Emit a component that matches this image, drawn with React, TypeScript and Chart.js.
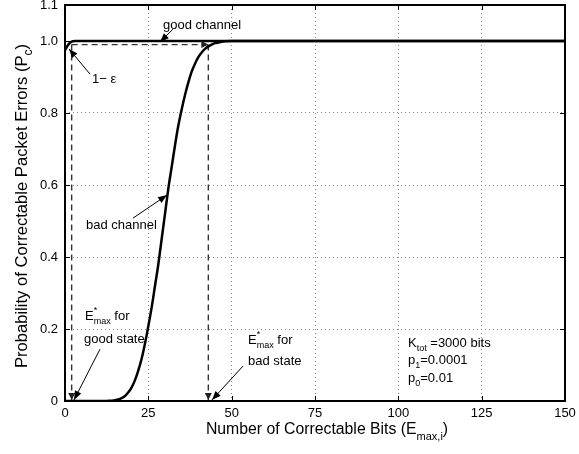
import React, { useEffect, useRef } from "react";
import { Chart, registerables } from "chart.js";

Chart.register(...registerables);

// ---- data ----
const goodX = [0, 1, 2, 3, 150];
const goodY = [0.975, 0.99, 0.998, 1.0, 1.0];

const badX = [0, 12, 13, 14, 15, 16, 17, 18, 19, 20, 21, 22, 23, 24, 25, 26, 27, 28, 29, 30, 31, 32, 33, 34, 35, 36, 37, 38, 39, 40, 41, 42, 43, 44, 45, 46, 47, 48, 50, 150];
const badY = [0, 0, 0.0005, 0.001, 0.002, 0.004, 0.008, 0.014, 0.024, 0.038, 0.058, 0.085, 0.118, 0.16, 0.208, 0.26, 0.32, 0.38, 0.45, 0.52, 0.59, 0.65, 0.71, 0.765, 0.81, 0.85, 0.885, 0.915, 0.937, 0.955, 0.968, 0.978, 0.985, 0.99, 0.994, 0.996, 0.998, 0.999, 1.0, 1.0];

const xTicks = [0, 25, 50, 75, 100, 125, 150];
const yTicks = [0, 0.2, 0.4, 0.6, 0.8, 1.0, 1.1];
const yTickLabels = ["0", "0.2", "0.4", "0.6", "0.8", "1.0", "1.1"];

const guideLevel = 0.99; // 1 - epsilon
const goodEmax = 2;
const badEmax = 43;

// annotation texts (segments: plain text, or sup/sub pairs) anchored in data units
type Seg = { t?: string; sup?: string; sub?: string };
const notes: { x: number; y: number; segs: Seg[] }[] = [
  { x: 29.4, y: 1.044, segs: [{ t: "good channel" }] },
  { x: 8.1, y: 0.892, segs: [{ t: "1\u2212 \u03b5" }] },
  { x: 6.3, y: 0.489, segs: [{ t: "bad channel" }] },
  { x: 6.0, y: 0.236, segs: [{ t: "E" }, { sup: "*", sub: "max" }, { t: " for" }] },
  { x: 5.7, y: 0.172, segs: [{ t: "good state" }] },
  { x: 54.9, y: 0.169, segs: [{ t: "E" }, { sup: "*", sub: "max" }, { t: " for" }] },
  { x: 54.9, y: 0.111, segs: [{ t: "bad state" }] },
  { x: 102.9, y: 0.161, segs: [{ t: "K" }, { sub: "tot" }, { t: " =3000 bits" }] },
  { x: 102.9, y: 0.114, segs: [{ t: "p" }, { sub: "1" }, { t: "=0.0001" }] },
  { x: 102.9, y: 0.064, segs: [{ t: "p" }, { sub: "0" }, { t: "=0.01" }] },
];

const arrows: { from: [number, number]; to: [number, number] }[] = [
  { from: [32.4, 1.033], to: [28.5, 0.997] },
  { from: [7.5, 0.908], to: [1.2, 0.978] },
  { from: [20.4, 0.508], to: [30.6, 0.572] },
  { from: [10.5, 0.144], to: [2.7, 0.003] },
  { from: [53.4, 0.097], to: [44.1, 0.003] },
];

const FONT = "'Liberation Sans', Arial, Helvetica, sans-serif";

function drawRich(ctx: CanvasRenderingContext2D, segs: Seg[], x: number, y: number, size: number) {
  let cx = x;
  ctx.textBaseline = "middle";
  ctx.textAlign = "left";
  const small = Math.round(size * 0.72);
  for (const s of segs) {
    if (s.t !== undefined) {
      ctx.font = `${size}px ${FONT}`;
      ctx.fillText(s.t, cx, y);
      cx += ctx.measureText(s.t).width;
    } else {
      ctx.font = `${small}px ${FONT}`;
      let w = 0;
      if (s.sup) {
        ctx.fillText(s.sup, cx, y - size * 0.45);
        w = Math.max(w, ctx.measureText(s.sup).width);
      }
      if (s.sub) {
        ctx.fillText(s.sub, cx, y + size * 0.42);
        w = Math.max(w, ctx.measureText(s.sub).width);
      }
      cx += w;
    }
  }
  return cx - x;
}

function measureRich(ctx: CanvasRenderingContext2D, segs: Seg[], size: number) {
  let w = 0;
  const small = Math.round(size * 0.72);
  for (const s of segs) {
    if (s.t !== undefined) {
      ctx.font = `${size}px ${FONT}`;
      w += ctx.measureText(s.t).width;
    } else {
      ctx.font = `${small}px ${FONT}`;
      w += Math.max(s.sup ? ctx.measureText(s.sup).width : 0, s.sub ? ctx.measureText(s.sub).width : 0);
    }
  }
  return w;
}

function arrowHead(ctx: CanvasRenderingContext2D, x0: number, y0: number, x1: number, y1: number, len: number, half: number) {
  const ang = Math.atan2(y1 - y0, x1 - x0);
  ctx.beginPath();
  ctx.moveTo(x1, y1);
  ctx.lineTo(x1 - len * Math.cos(ang) + half * Math.sin(ang), y1 - len * Math.sin(ang) - half * Math.cos(ang));
  ctx.lineTo(x1 - len * Math.cos(ang) - half * Math.sin(ang), y1 - len * Math.sin(ang) + half * Math.cos(ang));
  ctx.closePath();
  ctx.fill();
}

const overlay = {
  id: "overlay",
  afterDatasetsDraw(chart: any) {
    const { ctx, chartArea: a, scales } = chart;
    const sx = scales.x;
    const sy = scales.y;
    ctx.save();
    ctx.strokeStyle = "#000";
    ctx.fillStyle = "#000";
    // inner tick marks
    ctx.lineWidth = 1;
    ctx.beginPath();
    xTicks.forEach((v) => {
      const px = Math.round(sx.getPixelForValue(v)) + 0.5;
      ctx.moveTo(px, a.bottom);
      ctx.lineTo(px, a.bottom - 5);
      ctx.moveTo(px, a.top);
      ctx.lineTo(px, a.top + 5);
    });
    yTicks.forEach((v) => {
      const py = Math.round(sy.getPixelForValue(v)) + 0.5;
      ctx.moveTo(a.left, py);
      ctx.lineTo(a.left + 5, py);
      ctx.moveTo(a.right, py);
      ctx.lineTo(a.right - 5, py);
    });
    ctx.stroke();
    // box
    ctx.lineWidth = 2;
    ctx.strokeRect(a.left, a.top, a.right - a.left, a.bottom - a.top);

    // guide arrowheads
    ctx.fillStyle = "#222";
    const gx = sx.getPixelForValue(goodEmax);
    const bx = sx.getPixelForValue(badEmax);
    const gl = sy.getPixelForValue(guideLevel);
    const y0 = sy.getPixelForValue(0);
    arrowHead(ctx, gx, y0 - 20, gx, y0 - 1, 7, 3.5);
    arrowHead(ctx, bx, y0 - 20, bx, y0 - 1, 7, 3.5);
    arrowHead(ctx, bx - 20, gl, bx, gl, 7, 3.5);

    // annotation arrows
    ctx.fillStyle = "#000";
    ctx.lineWidth = 1;
    arrows.forEach((ar) => {
      const x0 = sx.getPixelForValue(ar.from[0]);
      const yy0 = sy.getPixelForValue(ar.from[1]);
      const x1 = sx.getPixelForValue(ar.to[0]);
      const y1 = sy.getPixelForValue(ar.to[1]);
      ctx.beginPath();
      ctx.moveTo(x0, yy0);
      ctx.lineTo(x1, y1);
      ctx.stroke();
      arrowHead(ctx, x0, yy0, x1, y1, 9, 3.5);
    });

    // notes
    notes.forEach((n) => {
      drawRich(ctx, n.segs, sx.getPixelForValue(n.x), sy.getPixelForValue(n.y), 13);
    });
    ctx.restore();
  },
  afterDraw(chart: any) {
    const { ctx } = chart;
    ctx.save();
    ctx.fillStyle = "#000";
    // x title
    const xt: Seg[] = [{ t: "Number of Correctable Bits (E" }, { sub: "max,i" }, { t: ")" }];
    const wx = measureRich(ctx, xt, 15.8);
    drawRich(ctx, xt, 327 - wx / 2, 430, 15.8);
    // y title
    const yt: Seg[] = [{ t: "Probability of Correctable Packet Errors (P" }, { sub: "c" }, { t: ")" }];
    const wy = measureRich(ctx, yt, 16.6);
    ctx.translate(22, 206);
    ctx.rotate(-Math.PI / 2);
    drawRich(ctx, yt, -wy / 2, 0, 16.6);
    ctx.restore();
  },
};

export default function App() {
  const ref = useRef<HTMLCanvasElement | null>(null);
  useEffect(() => {
    if (!ref.current) return;
    const gridColor = (c: any) => (c.tick && (c.tick.value === 0 || c.tick.value === 150 || c.tick.value === 1.1) ? "rgba(0,0,0,0)" : "#888");
    const chart = new Chart(ref.current, {
      type: "line",
      data: {
        datasets: [
          {
            label: "good channel",
            data: goodX.map((x, i) => ({ x, y: goodY[i] })),
            borderColor: "#000",
            borderWidth: 2.5,
            pointRadius: 0,
            cubicInterpolationMode: "monotone",
          },
          {
            label: "bad channel",
            data: badX.map((x, i) => ({ x, y: badY[i] })),
            borderColor: "#000",
            borderWidth: 2.5,
            pointRadius: 0,
            cubicInterpolationMode: "monotone",
          },
          {
            label: "guide h",
            data: [
              { x: goodEmax, y: guideLevel },
              { x: badEmax, y: guideLevel },
            ],
            borderColor: "#333",
            borderWidth: 1.4,
            borderDash: [6, 4],
            pointRadius: 0,
          },
          {
            label: "guide good",
            data: [
              { x: goodEmax, y: guideLevel },
              { x: goodEmax, y: 0 },
            ],
            borderColor: "#333",
            borderWidth: 1.4,
            borderDash: [6, 4],
            pointRadius: 0,
          },
          {
            label: "guide bad",
            data: [
              { x: badEmax, y: guideLevel },
              { x: badEmax, y: 0 },
            ],
            borderColor: "#333",
            borderWidth: 1.4,
            borderDash: [6, 4],
            pointRadius: 0,
          },
        ],
      },
      options: {
        animation: false,
        responsive: true,
        maintainAspectRatio: false,
        layout: { padding: { top: 5, right: 14, left: 0, bottom: 0 } },
        plugins: { legend: { display: false }, tooltip: { enabled: false } },
        scales: {
          x: {
            type: "linear",
            min: 0,
            max: 150,
            afterBuildTicks: (s: any) => {
              s.ticks = xTicks.map((v) => ({ value: v }));
            },
            afterFit: (s: any) => {
              s.height = 53;
              s.paddingLeft = 0;
              s.paddingRight = 0;
            },
            ticks: {
              color: "#000",
              font: { family: FONT, size: 13 },
              padding: 5,
              maxRotation: 0,
              autoSkip: false,
            },
            grid: {
              drawTicks: false,
              color: gridColor,
              lineWidth: 1,
            },
            border: { display: false, dash: [1, 3] },
          },
          y: {
            type: "linear",
            min: 0,
            max: 1.1,
            afterBuildTicks: (s: any) => {
              s.ticks = yTicks.map((v) => ({ value: v }));
            },
            afterFit: (s: any) => {
              s.width = 65;
              s.paddingTop = 0;
              s.paddingBottom = 0;
            },
            ticks: {
              color: "#000",
              font: { family: FONT, size: 13 },
              padding: 7,
              autoSkip: false,
              callback: (v: any) => {
                const i = yTicks.findIndex((t) => Math.abs(t - Number(v)) < 1e-9);
                return i >= 0 ? yTickLabels[i] : "";
              },
            },
            grid: {
              drawTicks: false,
              color: gridColor,
              lineWidth: 1,
            },
            border: { display: false, dash: [1, 3] },
          },
        },
      } as any,
      plugins: [overlay],
    });
    return () => chart.destroy();
  }, []);
  return (
    <div style={{ position: "fixed", left: 0, top: 0, width: 579, height: 454, background: "#fff" }}>
      <canvas ref={ref} />
    </div>
  );
}
